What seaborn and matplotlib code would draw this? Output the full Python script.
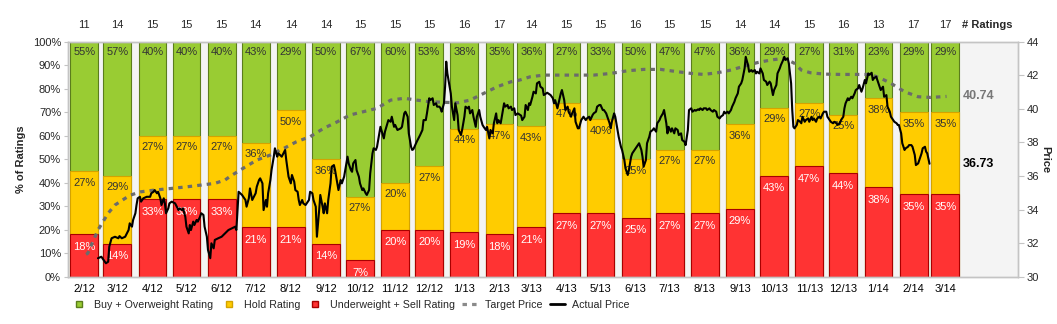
import numpy as np
import pandas as pd
import matplotlib
matplotlib.use("Agg")
import matplotlib.pyplot as plt
import seaborn as sns
from matplotlib.lines import Line2D
from matplotlib import transforms

# ---------------- data ----------------
months = ['2/12', '3/12', '4/12', '5/12', '6/12', '7/12', '8/12', '9/12', '10/12', '11/12',
          '12/12', '1/13', '2/13', '3/13', '4/13', '5/13', '6/13', '7/13', '8/13', '9/13',
          '10/13', '11/13', '12/13', '1/14', '2/14', '3/14']
n_ratings = [11, 14, 15, 15, 15, 14, 14, 14, 15, 15, 15, 16, 17, 14, 15, 15, 16, 15, 15, 14,
             14, 15, 16, 13, 17, 17]
buy_pct = [55, 57, 40, 40, 40, 43, 29, 50, 67, 60, 53, 38, 35, 36, 27, 33, 50, 47, 47, 36,
           29, 27, 31, 23, 29, 29]
hold_pct = [27, 29, 27, 27, 27, 36, 50, 36, 27, 20, 27, 44, 47, 43, 47, 40, 25, 27, 27, 36,
            29, 27, 25, 38, 35, 35]
sell_pct = [18, 14, 33, 33, 33, 21, 21, 14, 7, 20, 20, 19, 18, 21, 27, 27, 25, 27, 27, 29,
            43, 47, 44, 38, 35, 35]

# (days since 1 Feb 2012, price)
target_price = [(1.5, 31.33), (3, 31.39), (12, 32.78), (21, 33.78), (27, 34.27), (36, 34.67),
                (41, 34.87), (50, 35.06), (62, 35.16), (77, 35.26), (91, 35.36), (103, 35.46),
                (115, 35.56), (124, 35.76), (129, 36.0), (140, 36.46), (152, 36.95), (164, 37.25),
                (176, 37.65), (187, 38.04), (199, 38.34), (211, 38.84), (223, 39.23), (234, 39.63),
                (246, 39.83), (258, 40.03), (270, 40.52), (282, 40.63), (293, 40.52), (305, 40.42),
                (317, 40.39), (329, 40.36), (340, 40.52), (352, 40.92), (364, 41.32), (376, 41.61),
                (384, 41.72), (393, 41.91), (405, 42.01), (420, 42.01), (435, 42.01), (449, 42.01),
                (464, 42.11), (479, 42.27), (493, 42.35), (508, 42.35), (523, 42.21), (535, 42.11),
                (546, 42.05), (558, 42.15), (570, 42.31), (582, 42.55), (593, 42.75), (605, 42.91),
                (617, 43.01), (626, 42.71), (632, 42.31), (640, 42.15), (652, 42.07), (667, 42.05),
                (682, 42.05), (693, 42.05), (702, 41.82), (711, 41.52), (723, 41.02), (735, 40.72),
                (746, 40.68), (760, 40.74)]

actual_price = [
    (12, 31.10), (15, 31.19), (19, 30.80), (21, 30.89), (22, 31.79), (24, 32.29), (27, 32.38),
    (30, 32.29), (31, 32.42), (33, 32.29), (36, 32.38), (39, 32.78), (40, 33.18), (42, 32.98),
    (43, 33.38), (45, 33.78), (46, 34.27), (47, 34.67), (49, 34.76), (50, 34.47), (52, 34.67),
    (55, 34.76), (58, 34.76), (59, 34.97), (61, 35.06), (62, 35.16), (64, 34.97), (65, 35.06),
    (67, 34.67), (68, 34.27), (70, 34.67), (71, 34.37), (72, 33.78), (74, 34.07), (75, 34.37),
    (77, 34.47), (80, 34.37), (83, 33.97), (84, 34.07), (86, 33.97), (87, 34.07), (89, 33.57),
    (90, 32.98), (92, 32.58), (93, 33.08), (94, 32.78), (96, 33.28), (97, 33.08), (99, 33.38),
    (100, 33.28), (102, 33.57), (103, 33.78), (105, 33.68), (106, 32.98), (108, 32.38),
    (109, 31.59), (111, 31.10), (112, 31.99), (114, 31.69), (115, 32.19), (118, 32.29),
    (121, 32.38), (124, 32.58), (127, 32.78), (130, 32.88), (133, 32.98), (134, 32.78),
    (136, 35.06), (139, 34.87), (142, 34.57), (143, 34.17), (145, 34.67), (146, 35.26),
    (148, 34.57), (151, 34.97), (152, 35.36), (154, 35.76), (155, 35.86), (157, 35.56),
    (158, 33.97), (160, 34.57), (161, 34.17), (162, 34.97), (164, 35.76), (165, 36.35),
    (167, 37.15), (168, 37.65), (170, 37.15), (171, 37.35), (174, 37.15), (177, 37.55),
    (178, 36.95), (180, 35.96), (182, 35.56), (183, 36.06), (185, 35.66), (186, 35.16),
    (188, 35.06), (189, 34.57), (190, 34.27), (192, 34.57), (193, 34.37), (195, 34.27),
    (196, 34.37), (198, 34.57), (199, 35.06), (201, 34.97), (202, 34.57), (204, 34.17),
    (205, 32.38), (207, 33.97), (208, 34.87), (210, 34.17), (211, 33.78), (212, 34.37),
    (214, 33.78), (215, 34.57), (217, 35.56), (218, 36.55), (220, 36.65), (221, 36.35),
    (223, 35.56), (224, 35.16), (226, 35.76), (227, 35.56), (229, 35.96), (230, 36.35),
    (232, 37.15), (233, 36.75), (235, 36.35), (236, 36.25), (237, 36.75), (239, 36.95),
    (240, 36.35), (242, 35.96), (243, 35.56), (245, 35.16), (246, 35.26), (248, 34.97),
    (249, 34.87), (251, 35.16), (252, 36.16), (254, 37.35), (255, 37.65), (257, 37.55),
    (258, 37.74), (260, 38.54), (261, 38.93), (264, 38.24), (265, 38.64), (268, 39.33),
    (270, 39.23), (271, 39.53), (273, 38.93), (274, 39.04), (276, 38.74), (279, 38.84),
    (280, 38.93), (282, 39.73), (283, 39.83), (285, 39.53), (286, 38.54), (288, 37.74),
    (289, 37.55), (290, 37.59), (293, 38.04), (296, 38.44), (298, 38.74), (299, 39.33),
    (301, 39.33), (302, 39.73), (304, 40.63), (305, 40.52), (307, 40.63), (308, 40.23),
    (310, 40.33), (311, 40.13), (313, 40.13), (314, 40.03), (315, 39.83), (317, 40.33),
    (318, 41.32), (319, 42.81), (320, 42.11), (322, 41.32), (323, 40.92), (324, 40.13),
    (326, 39.33), (327, 40.33), (329, 39.63), (330, 38.74), (332, 38.44), (333, 38.74),
    (335, 39.53), (336, 40.13), (338, 40.03), (339, 40.13), (340, 39.73), (342, 39.93),
    (343, 39.53), (345, 38.93), (346, 39.53), (348, 39.93), (349, 39.53), (351, 39.04),
    (352, 38.93), (354, 38.74), (355, 38.93), (357, 38.24), (358, 38.74), (360, 38.54),
    (361, 39.14), (363, 39.73), (364, 39.14), (365, 39.33), (367, 39.14), (368, 39.53),
    (370, 40.33), (371, 40.13), (373, 40.23), (374, 40.03), (376, 40.13), (377, 39.93),
    (379, 40.03), (380, 39.63), (382, 39.73), (385, 39.60), (386, 39.33), (388, 39.53),
    (389, 40.23), (391, 39.93), (392, 40.33), (393, 40.23), (395, 40.72), (396, 41.02),
    (398, 40.92), (399, 41.52), (401, 41.61), (402, 41.32), (404, 41.22), (405, 40.82),
    (408, 40.96), (411, 40.82), (413, 40.63), (414, 40.33), (415, 40.52), (417, 40.03),
    (418, 40.33), (420, 40.92), (421, 41.12), (423, 40.52), (424, 39.93), (426, 40.13),
    (427, 39.83), (429, 39.53), (430, 39.73), (432, 40.03), (433, 39.23), (435, 38.84),
    (436, 38.84), (438, 39.33), (439, 39.43), (440, 39.53), (442, 39.33), (443, 39.43),
    (445, 39.53), (446, 39.33), (448, 39.63), (449, 39.73), (451, 39.83), (452, 40.13),
    (454, 40.23), (455, 40.23), (457, 39.93), (458, 39.93), (460, 39.73), (461, 39.53),
    (463, 39.14), (464, 38.84), (465, 39.23), (467, 39.73), (468, 39.53), (470, 38.74),
    (471, 38.34), (473, 37.74), (474, 37.55), (476, 36.95), (477, 36.46), (479, 36.06),
    (480, 36.35), (482, 37.15), (483, 37.35), (485, 37.55), (486, 37.65), (488, 37.84),
    (489, 37.95), (491, 37.55), (492, 37.15), (493, 36.55), (495, 36.95), (496, 37.95),
    (498, 38.34), (499, 38.64), (501, 38.74), (502, 38.84), (504, 38.64), (505, 39.14),
    (507, 39.33), (508, 39.50), (510, 39.73), (511, 39.93), (513, 39.14), (514, 38.54),
    (515, 38.93), (517, 38.64), (518, 38.84), (520, 38.54), (521, 38.84), (523, 38.74),
    (524, 38.44), (526, 38.54), (527, 38.14), (529, 38.04), (530, 37.84), (532, 38.74),
    (533, 39.93), (535, 40.03), (536, 39.83), (538, 39.93), (539, 39.89), (541, 39.97),
    (542, 39.93), (543, 40.03), (545, 39.93), (546, 40.03), (548, 40.03), (549, 39.93),
    (551, 40.03), (552, 39.93), (554, 39.83), (555, 39.93), (557, 39.83), (558, 39.53),
    (560, 39.43), (561, 39.53), (563, 39.63), (564, 39.83), (565, 39.73), (567, 39.83),
    (568, 39.73), (570, 39.93), (571, 40.13), (573, 40.42), (574, 40.63), (576, 40.92),
    (577, 41.32), (579, 41.52), (580, 41.72), (582, 42.41), (583, 43.10), (585, 42.61),
    (586, 42.21), (588, 42.31), (589, 42.21), (591, 42.31), (592, 42.11), (593, 42.21),
    (595, 42.11), (596, 42.41), (598, 42.11), (599, 41.72), (601, 41.62), (602, 41.42),
    (604, 41.62), (605, 41.52), (607, 40.82), (608, 41.12), (610, 41.42), (611, 42.11),
    (613, 42.41), (614, 42.61), (616, 42.91), (617, 43.10), (618, 42.91), (620, 43.01),
    (621, 42.71), (623, 41.52), (624, 39.93), (625, 38.93), (626, 38.84), (628, 39.04),
    (629, 39.33), (631, 39.23), (632, 39.14), (633, 39.53), (635, 39.23), (636, 39.33),
    (638, 39.43), (639, 39.23), (641, 39.53), (642, 39.33), (643, 39.43), (645, 39.23),
    (646, 39.43), (648, 39.53), (649, 39.43), (651, 39.73), (652, 39.83), (654, 39.83),
    (655, 39.53), (657, 39.33), (658, 39.23), (660, 39.14), (661, 39.23), (663, 39.14),
    (664, 39.04), (666, 39.14), (667, 39.33), (669, 39.53), (670, 40.03), (671, 40.33),
    (673, 40.63), (674, 40.52), (676, 40.72), (677, 40.63), (679, 40.92), (680, 41.12),
    (682, 41.22), (683, 41.42), (685, 41.02), (686, 41.22), (688, 41.72), (689, 41.52),
    (691, 42.11), (692, 42.02), (694, 42.15), (695, 41.72), (696, 41.82), (698, 41.92),
    (699, 41.72), (701, 41.32), (702, 41.12), (704, 41.32), (705, 40.72), (707, 40.82),
    (708, 40.13), (710, 39.83), (711, 39.53), (713, 39.33), (714, 39.23), (716, 39.14),
    (717, 39.04), (718, 39.04), (720, 38.54), (721, 37.95), (723, 37.55), (724, 37.65),
    (726, 37.74), (727, 37.84), (729, 37.84), (730, 37.74), (732, 37.25), (733, 36.65),
    (735, 36.75), (736, 36.95), (738, 37.35), (739, 37.65), (741, 37.74), (742, 37.45),
    (743, 37.35), (745, 36.73)]

last_target = 40.74
last_actual = 36.73

# ---------------- style ----------------
sns.set_style("white")
plt.rcParams['font.family'] = ['Liberation Sans', 'DejaVu Sans']

GREEN, GREEN_E = '#99cc33', '#5b7d1c'
YELLOW, YELLOW_E = '#ffcc00', '#d4a300'
RED, RED_E = '#ff3333', '#a80000'
AXC = '#c4c4c4'

dates = pd.to_datetime(months, format='%m/%y')
bar_days = np.asarray((dates - dates[0]).days, dtype=float)

df = pd.DataFrame({'day': bar_days, 'buy': buy_pct, 'hold': hold_pct, 'sell': sell_pct})
df['hold_top'] = df['sell'] + df['hold']
df['full'] = 100

fig = plt.figure(figsize=(10.57, 3.24), dpi=100)
ax = fig.add_axes([68 / 1057, 47.3 / 324, 950 / 1057, 235 / 324])
ax.set_facecolor('#f4f4f4')

w = 0.875
sns.barplot(data=df, x='day', y='full', native_scale=True, width=w, color=GREEN,
            edgecolor=GREEN_E, linewidth=0.8, errorbar=None, saturation=1, ax=ax)
sns.barplot(data=df, x='day', y='hold_top', native_scale=True, width=w, color=YELLOW,
            edgecolor=YELLOW_E, linewidth=0.8, errorbar=None, saturation=1, ax=ax)
sns.barplot(data=df, x='day', y='sell', native_scale=True, width=w, color=RED,
            edgecolor=RED_E, linewidth=0.8, errorbar=None, saturation=1, ax=ax)

for d, b, ht, s in zip(df['day'], df['buy'], df['hold_top'], df['sell']):
    ax.annotate(f'{b}%', (d, 100), xytext=(0, -7.6), textcoords='offset points',
                ha='center', va='center', fontsize=8, color='#333333')
    ax.annotate(f'{ht - s}%', (d, ht), xytext=(0, -8.4), textcoords='offset points',
                ha='center', va='center', fontsize=8, color='#333333')
    ax.annotate(f'{s}%', (d, s), xytext=(0, -9), textcoords='offset points',
                ha='center', va='center', fontsize=8, color='white')

xmin, xmax = bar_days[0] - 14.4, bar_days[-1] + 64
ax.set_xlim(xmin, xmax)
ax.set_ylim(0, 100)
ax.set_yticks(range(0, 101, 10))
ax.set_yticklabels([f'{v}%' for v in range(0, 101, 10)])
ax.set_xticks(bar_days)
ax.set_xticklabels(months)
ax.set_xlabel('')
ax.set_ylabel('% of Ratings', fontsize=8, fontweight='bold', labelpad=5)
ax.tick_params(axis='x', length=0, pad=5, labelsize=8, colors='black')
ax.tick_params(axis='y', left=True, length=3, width=0.8, color=AXC, pad=2, labelsize=8)
for sp in ax.spines.values():
    sp.set_color(AXC)
    sp.set_linewidth(1)

# counts row
trans = transforms.blended_transform_factory(ax.transData, ax.transAxes)
for d, n in zip(bar_days, n_ratings):
    ax.text(d, 1.07, str(n), transform=trans, ha='center', va='center', fontsize=8)
ax.text(bar_days[-1] + 15, 1.07, '# Ratings', transform=trans, ha='left', va='center',
        fontsize=8, fontweight='bold')

# price axis
ax2 = ax.twinx()
tp = pd.DataFrame(target_price, columns=['day', 'price'])
ap = pd.DataFrame(actual_price, columns=['day', 'price'])
sns.lineplot(data=tp, x='day', y='price', ax=ax2, color='#6b6b6b', linewidth=2.3,
             estimator=None, sort=False)
ax2.lines[-1].set_dashes((1.4, 1.6))
sns.lineplot(data=ap, x='day', y='price', ax=ax2, color='black', linewidth=1.5,
             estimator=None, sort=False)
ax2.set_xlim(xmin, xmax)
ax2.set_ylim(30, 44)
ax2.set_yticks(range(30, 45, 2))
ax2.tick_params(axis='y', right=True, length=4, width=0.8, color=AXC, pad=2, labelsize=8)
ax2.set_xlabel('')
ax2.set_ylabel('Price', fontsize=8, fontweight='bold', rotation=270, labelpad=8)
for sp in ax2.spines.values():
    sp.set_color(AXC)
    sp.set_linewidth(1)

ax2.text(bar_days[-1] + 15, last_target, f'{last_target:.2f}', ha='left', va='center',
         fontsize=9, fontweight='bold', color='#777777')
ax2.text(bar_days[-1] + 15, last_actual, f'{last_actual:.2f}', ha='left', va='center',
         fontsize=9, fontweight='bold', color='black')

handles = [
    Line2D([], [], ls='None', marker='s', markersize=5, markerfacecolor=GREEN,
           markeredgecolor=GREEN_E),
    Line2D([], [], ls='None', marker='s', markersize=5, markerfacecolor=YELLOW,
           markeredgecolor=YELLOW_E),
    Line2D([], [], ls='None', marker='s', markersize=5, markerfacecolor=RED,
           markeredgecolor=RED_E),
    Line2D([], [], color='#8a8a8a', lw=2.3, dashes=(1.4, 1.6)),
    Line2D([], [], color='black', lw=2),
]
labels = ['Buy + Overweight Rating', 'Hold Rating', 'Underweight + Sell Rating',
          'Target Price', 'Actual Price']
fig.legend(handles, labels, loc='center left', bbox_to_anchor=(72 / 1057, 19 / 324),
           ncol=5, frameon=False, fontsize=7.7, handlelength=1.4, handletextpad=0.7,
           columnspacing=0.7, borderaxespad=0, borderpad=0)

fig.savefig('out.png', dpi=100)
